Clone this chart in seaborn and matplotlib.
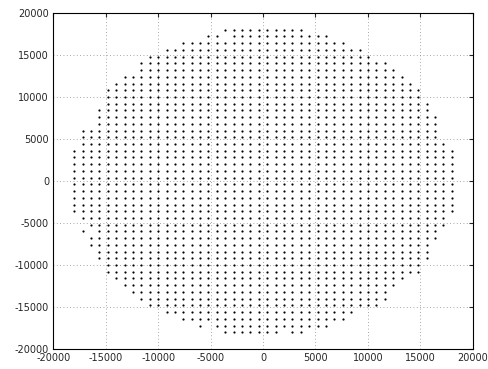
import numpy as np
import pandas as pd
import matplotlib
matplotlib.use("Agg")
import matplotlib.pyplot as plt
import seaborn as sns

# grid columns / rows of the sampling pattern (data units)
x_cols = [-18000, -17200, -16400, -15600, -14800, -14000, -13200, -12400, -11600, -10800,
          -10000, -9200, -8400, -7600, -6800, -6000, -5200, -4400, -3600, -2800,
          -2000, -1200, -400, 400, 1200, 2000, 2800, 3600, 4400, 5200,
          6000, 6800, 7600, 8400, 9200, 10000, 10800, 11600, 12400, 13200,
          14000, 14800, 15600, 16400, 17200, 18000]
y_rows = [18000, 17200, 16400, 15600, 14800, 14000, 13200, 12400, 11600, 10800,
          10000, 9200, 8400, 7600, 6800, 6000, 5200, 4400, 3600, 2800,
          2000, 1200, 400, -400, -1200, -2000, -2800, -3600, -4400, -5200,
          -6000, -6800, -7600, -8400, -9200, -10000, -10800, -11600, -12400, -13200,
          -14000, -14800, -15600, -16400, -17200, -18000]
# left / right extent of each row
row_left = [-3600, -5200, -7600, -9200, -10800, -11600, -11600, -13200, -14000, -14800,
            -14800, -14800, -15600, -15600, -15600, -17200, -17200, -17200, -18000, -18000,
            -18000, -18000, -18000, -18000, -18000, -18000, -18000, -18000, -17200, -16400,
            -17200, -16400, -16400, -15600, -15600, -14800, -14800, -14000, -13200, -12400,
            -11600, -10800, -9200, -7600, -6000, -3600]
row_right = [3600, 6000, 7600, 9200, 10000, 11600, 12400, 13200, 14000, 14800,
             14800, 15600, 15600, 16400, 16400, 16400, 16400, 17200, 18000, 18000,
             18000, 18000, 18000, 18000, 18000, 18000, 18000, 18000, 17200, 17200,
             16400, 16400, 15600, 15600, 15600, 14800, 14800, 13200, 12400, 11600,
             11600, 10800, 8400, 7600, 6000, 3600]
missing = [(-3600, 17200), (-16400, -6000), (-5200, -17200), (2000, -18000)]

ticks = [-20000, -15000, -10000, -5000, 0, 5000, 10000, 15000, 20000]

pts = []
for y, lo, hi in zip(y_rows, row_left, row_right):
    for x in x_cols:
        if lo <= x <= hi and (x, y) not in missing:
            pts.append((x, y))
df = pd.DataFrame(pts, columns=["x", "y"])

sns.set_style("white")
plt.rcParams['font.family'] = ['DejaVu Sans']

fig = plt.figure(figsize=(4.88, 3.69), dpi=100)
ax = fig.add_axes([0.109, 0.054, 0.860, 0.911])

sns.scatterplot(data=df, x="x", y="y", color="black", s=2.5, linewidth=0,
                marker="o", ax=ax, legend=False)

ax.set_xlim(-20000, 20000)
ax.set_ylim(-20000, 20000)
ax.set_xticks(ticks)
ax.set_yticks(ticks)
ax.set_xticklabels([str(t) for t in ticks])
ax.set_yticklabels([str(t) for t in ticks])
ax.set_xlabel("")
ax.set_ylabel("")
ax.grid(True, color="#8a8a8a", linestyle=(0, (1, 3)), linewidth=0.6)
ax.tick_params(direction="in", top=True, right=True, length=3, width=0.8,
               labelsize=7, pad=3)
for sp in ax.spines.values():
    sp.set_visible(True)
    sp.set_color("black")
    sp.set_linewidth(0.8)

fig.savefig("out.png", dpi=100)
